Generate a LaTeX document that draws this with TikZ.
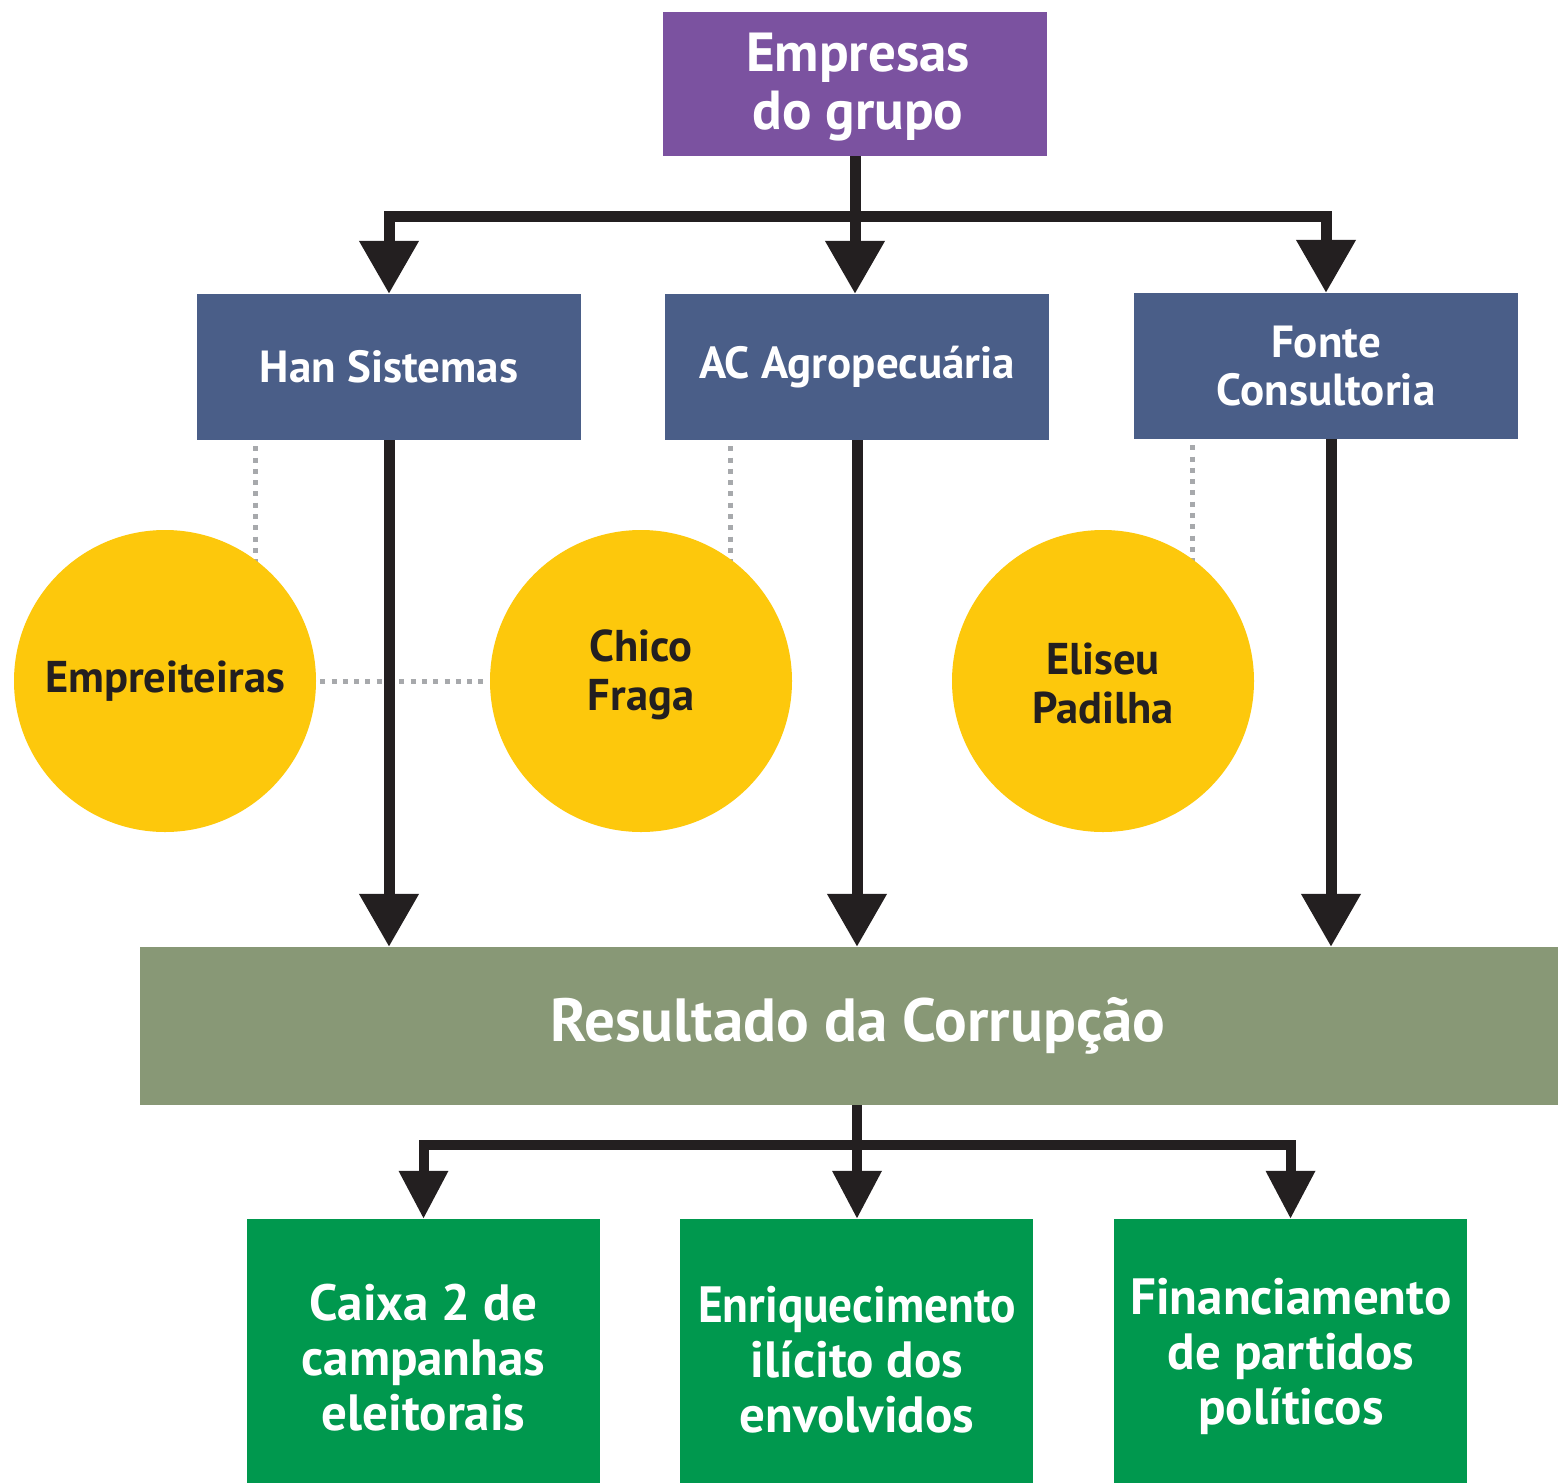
\documentclass[tikz,border=0pt]{standalone}
\usepackage{fontspec}
\setmainfont{PT Sans}
\usetikzlibrary{arrows.meta,backgrounds,calc}
\definecolor{cpurple}{RGB}{123,82,160}
\definecolor{cblue}{RGB}{74,94,136}
\definecolor{colive}{RGB}{136,152,118}
\definecolor{cgreen}{RGB}{0,152,78}
\definecolor{cyellow}{RGB}{253,200,12}
\definecolor{cdark}{RGB}{35,31,32}
\definecolor{cgray}{RGB}{167,169,172}
\tikzset{
  boxbase/.style={draw=none,inner sep=0pt,align=center,text=white,font=\bfseries},
  purplebox/.style={boxbase,fill=cpurple,minimum width=384pt,minimum height=144pt},
  purpletext/.style={inner sep=0pt,align=center,text=white,font=\bfseries\fontsize{55}{58}\selectfont},
  bluebox/.style={boxbase,fill=cblue,minimum width=384pt,minimum height=146pt,font=\bfseries\fontsize{45}{48}\selectfont},
  olivebox/.style={boxbase,fill=colive,minimum width=1418pt,minimum height=158pt,font=\bfseries\fontsize{61}{66}\selectfont},
  greenbox/.style={boxbase,fill=cgreen,minimum width=353pt,minimum height=264pt},
  greentext/.style={inner sep=0pt,align=center,text=white,font=\bfseries\fontsize{51}{55}\selectfont},
  yellowcircle/.style={circle,fill=cyellow,draw=none,inner sep=0pt,minimum size=302pt,align=center,text=cdark,font=\bfseries\fontsize{44.5}{49}\selectfont},
  yellowtext/.style={inner sep=0pt,align=center,text=cdark,font=\bfseries\fontsize{44.5}{49}\selectfont},
  ln/.style={draw=cdark,line width=11pt},
  arr/.style={ln,-{Triangle[width=57pt,length=53pt]}},
  lnb/.style={draw=cdark,line width=10pt},
  arrb/.style={lnb,-{Triangle[width=47pt,length=48pt]}},
  dotline/.style={draw=cgray,line width=5pt,dash pattern=on 5pt off 6.3pt},
}
\begin{document}
\begin{tikzpicture}[x=1pt,y=-1pt]
\useasboundingbox (0,0) rectangle (1558,1483);
% boxes
\node[purplebox] (emp) at (855,84) {};
\node[purpletext] (empt) at (858,87) {Empresas\\do grupo};
\node[bluebox] (han) at (389,367) {Han Sistemas};
\node[bluebox] (ac) at (857,367) {\raisebox{4pt}{AC Agropecuária}};
\node[bluebox] (fonte) at (1326,366) {Fonte\\Consultoria};
\node[olivebox] (res) at (849,1026) {\raisebox{6pt}{\hspace*{18pt}Resultado da Corrupção}};
\node[greenbox] (g1) at (423.5,1351) {};
\node[greenbox] (g2) at (856.5,1351) {};
\node[greenbox] (g3) at (1290.5,1351) {};
\node[greentext] (g1t) at (423.5,1358) {Caixa 2 de\\campanhas\\eleitorais};
\node[greentext] (g2t) at (857,1360) {\scalebox{0.93}[1]{Enriquecimento}\\ilícito dos\\envolvidos};
\node[greentext] (g3t) at (1291,1356) {Financiamento\\de partidos\\políticos};
% circles
\node[yellowcircle] (empc) at (165,681) {Empreiteiras};
\node[yellowcircle] (chico) at (641,681) {};
\node[yellowtext] (chicot) at (641,675) {Chico\\Fraga};
\node[yellowcircle] (eliseu) at (1103,681) {};
\node[yellowtext] (eliseut) at (1103,683) {Eliseu\\Padilha};
% dotted links behind
\begin{pgfonlayer}{background}
\fill[white] (0,0) rectangle (1558,1483);
\draw[dotline] ([xshift=59pt,yshift=-6pt]han.south west) -- ([xshift=59pt]han.south west |- empc.center);
\draw[dotline] ([xshift=66pt,yshift=-6pt]ac.south west) -- ([xshift=66pt]ac.south west |- chico.center);
\draw[dotline] ([xshift=59pt,yshift=-6pt]fonte.south west) -- ([xshift=59pt]fonte.south west |- eliseu.center);
\draw[dotline] ([xshift=4pt]empc.east) -- ([xshift=-3pt]chico.west);
\end{pgfonlayer}
% top connectors
\coordinate (j1) at (855,216);
\draw[ln] (emp.south) -- (j1);
\draw[arr] (j1) -| (han.north);
\draw[arr] (j1) -- (j1 |- ac.north);
\draw[arr] (j1) -| (fonte.north);
% middle connectors
\draw[arr] (han.south) -- (han.south |- res.north);
\draw[arr] (ac.south) -- (ac.south |- res.north);
\draw[arr] ([xshift=5pt]fonte.south) -- ([xshift=5pt]fonte.south |- res.north);
% bottom connectors
\coordinate (j2) at (857,1145);
\draw[lnb] (j2 |- res.south) -- (j2);
\draw[arrb] (j2) -| (g1.north);
\draw[arrb] (j2) -- (j2 |- g2.north);
\draw[arrb] (j2) -| (g3.north);
\end{tikzpicture}
\end{document}
